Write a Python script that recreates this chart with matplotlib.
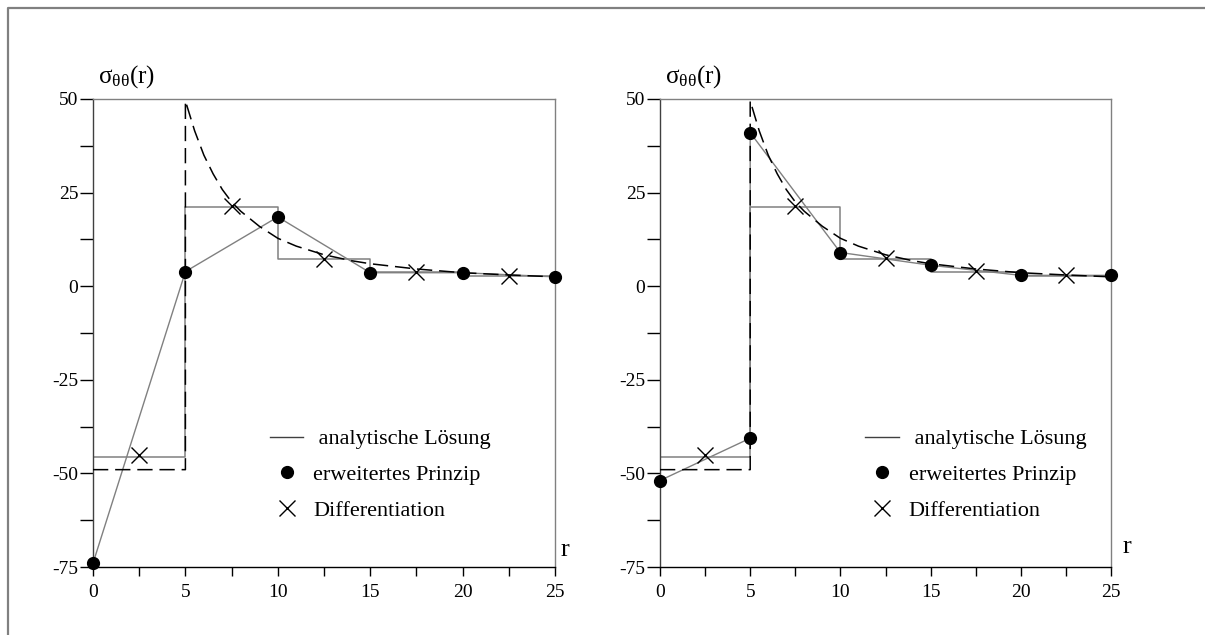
import matplotlib
matplotlib.use("Agg")
import matplotlib.pyplot as plt
from matplotlib.lines import Line2D

plt.rcParams['font.family'] = ['Liberation Serif', 'DejaVu Serif']
plt.rcParams['mathtext.fontset'] = 'custom'
plt.rcParams['mathtext.rm'] = 'Liberation Serif'
plt.rcParams['mathtext.it'] = 'Liberation Serif'
plt.rcParams['axes.unicode_minus'] = False

# ---------------- data ----------------
# analytic solution (dashed): inner region and outer curve
r_in = [0, 5]
s_in = [-49.0, -49.0]
r_curve = [5, 5.5, 6, 6.5, 7, 7.5, 8, 9, 10, 11, 12.5, 14, 15, 17.5, 20, 22.5, 25]
s_curve = [49.5, 41.5, 35.0, 30.0, 25.8, 22.5, 20.0, 16.0, 12.8, 10.7, 8.4, 6.8, 6.0, 4.6, 3.6, 3.0, 2.5]

# element-wise constant solution (solid grey steps)
step_edges = [0, 5, 10, 15, 20, 25]
step_vals = [-45.5, 21.2, 7.3, 3.8, 2.7]

# erweitertes Prinzip (dots)
left_dot_r = [0, 5, 10, 15, 20, 25]
left_dot_s = [-74.0, 3.9, 18.5, 3.6, 3.6, 2.5]
right_dot_r = [0, 5, 5, 10, 15, 20, 25]
right_dot_s = [-51.9, -40.6, 41.0, 9.0, 5.6, 2.9, 2.9]

# Differentiation (crosses)
cross_r = [2.5, 7.5, 12.5, 17.5, 22.5]
left_cross_s = [-45.2, 21.4, 7.3, 3.8, 2.8]
right_cross_s = [-45.2, 21.4, 7.5, 4.0, 3.0]

xticks = [0, 5, 10, 15, 20, 25]
yticks = [-75, -50, -25, 0, 25, 50]
labels = [' analytische Lösung', 'erweitertes Prinzip', 'Differentiation']

W, H = 1205, 635
fig = plt.figure(figsize=(W / 100, H / 100), dpi=100)

# outer frame
fig.add_artist(Line2D([8 / W, 8 / W, 1.0], [0.0, 1 - 8 / H, 1 - 8 / H],
                      transform=fig.transFigure, color='#808080', lw=1.6))

GREY = '#808080'


def make_panel(rect, dot_r, dot_s, cross_s, leg_anchor, rlabel_xy):
    ax = fig.add_axes(rect)
    ax.set_xlim(0, 25)
    ax.set_ylim(-75, 50)
    # steps
    sx, sy = [], []
    for i, v in enumerate(step_vals):
        sx += [step_edges[i], step_edges[i + 1]]
        sy += [v, v]
    ax.plot(sx, sy, color=GREY, lw=1.1, zorder=2)
    # analytic dashed
    ax.plot(r_in + r_curve, s_in + s_curve, color='black', lw=1.1,
            dashes=(10, 4.5), zorder=3)
    # dots with grey connecting line
    ax.plot(dot_r, dot_s, color=GREY, lw=1.0, zorder=2, clip_on=False)
    ax.plot(dot_r, dot_s, 'o', color='black', ms=8.5, zorder=5, clip_on=False)
    # crosses
    ax.plot(cross_r, cross_s, 'x', color='black', ms=12, mew=1.0, zorder=5)

    ax.set_xticks(xticks)
    ax.set_yticks(yticks)
    ax.set_xticks([2.5, 7.5, 12.5, 17.5, 22.5], minor=True)
    ax.set_yticks([-62.5, -37.5, -12.5, 12.5, 37.5], minor=True)
    ax.tick_params(which='both', direction='out', width=1.0,
                   labelsize=14, colors='black')
    ax.tick_params(axis='x', which='both', length=6.5, pad=6)
    ax.tick_params(axis='y', which='both', length=9.5, pad=1)
    for s in ['top', 'right']:
        ax.spines[s].set_color(GREY)
        ax.spines[s].set_linewidth(1.0)
    ax.spines['left'].set_color('#404040')
    ax.spines['bottom'].set_color('black')
    for s in ['left', 'bottom']:
        ax.spines[s].set_linewidth(1.0)

    handles = [Line2D([], [], color='#404040', lw=1.0),
               Line2D([], [], marker='o', ls='none', color='black', ms=8.5),
               Line2D([], [], marker='x', ls='none', color='black', ms=12, mew=1.0)]
    ax.legend(handles, labels, loc='upper left', bbox_to_anchor=leg_anchor,
              frameon=False, fontsize=16, handlelength=1.5, handletextpad=0.45,
              labelspacing=0.68, borderpad=0, borderaxespad=0)

    ax.text(0.01, 1.02, r'$\mathrm{σ_{θθ}(r)}$', transform=ax.transAxes,
            fontsize=18, ha='left', va='bottom')
    ax.text(rlabel_xy[0], rlabel_xy[1], 'r', transform=ax.transAxes,
            fontsize=19, ha='left', va='center')
    return ax


make_panel([93 / W, 1 - 567 / H, 462 / W, 468 / H], left_dot_r, left_dot_s,
           left_cross_s, (0.383, 0.295), (1.012, 0.037))
make_panel([660 / W, 1 - 567 / H, 451 / W, 468 / H], right_dot_r, right_dot_s,
           right_cross_s, (0.455, 0.295), (1.025, 0.042))

fig.savefig('out.png', dpi=100)
